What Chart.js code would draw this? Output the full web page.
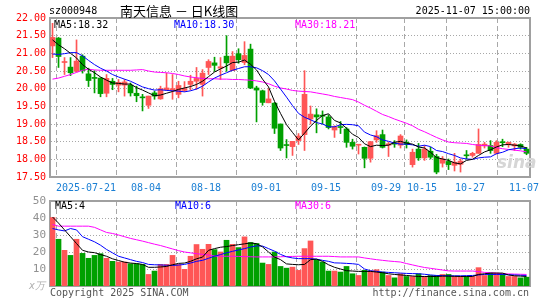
<!DOCTYPE html>
<html>
<head>
<meta charset="utf-8">
<script src="https://cdn.jsdelivr.net/npm/chart.js@4.4.0/dist/chart.umd.min.js"></script>
<style>
  body { margin: 0; background: #fff; width: 545px; height: 300px; overflow: hidden; position: relative; font-family: "DejaVu Sans Mono", monospace; }
  canvas { position: absolute; left: 0; top: 0; }
  .t { position: absolute; font-size: 10px; line-height: 12px; white-space: nowrap; }
</style>
</head>
<body>
<canvas id="kline" width="545" height="300"></canvas>
<canvas id="vol" width="545" height="300"></canvas>

<div class="t" style="left:49px;top:5px;color:#000">sz000948</div>
<div class="t" style="left:120px;top:3px;font-family:'Noto Sans CJK SC';font-size:13px;line-height:16px;color:#000">南天信息 － 日K线图</div>
<div class="t" style="right:15px;top:5px;color:#000">2025-11-07 15:00:00</div>

<div class="t" style="left:54px;top:19px;color:#000">MA5:18.32</div>
<div class="t" style="left:174px;top:19px;color:#0000ff">MA10:18.30</div>
<div class="t" style="left:295px;top:19px;color:#ff00ff">MA30:18.21</div>

<div class="t" style="left:55px;top:200px;color:#000">MA5:4</div>
<div class="t" style="left:175px;top:200px;color:#0000ff">MA10:6</div>
<div class="t" style="left:295px;top:200px;color:#ff00ff">MA30:6</div>

<div class="t" style="left:29px;top:280px;color:#b0b0b0;font-style:italic">x万</div>
<div class="t" style="left:50px;top:287px;color:#555">Copyright 2025 SINA.COM</div>
<div class="t" style="right:16px;top:287px;color:#555">http://finance.sina.com.cn</div>
<div class="t" style="left:497px;top:152px;font-size:17px;line-height:20px;font-weight:bold;font-style:italic;font-family:'DejaVu Sans';color:#d6d6d6">sina</div>

<script>
// 交易日 (80 根K线)
const dates = [
  "07-11","07-14","07-15","07-16","07-17","07-18",
  "07-21","07-22","07-23","07-24","07-25","07-28","07-29","07-30","07-31","08-01",
  "08-04","08-05","08-06","08-07","08-08","08-11","08-12","08-13","08-14","08-15",
  "08-18","08-19","08-20","08-21","08-22","08-25","08-26","08-27","08-28","08-29",
  "09-01","09-02","09-03","09-04","09-05","09-08","09-09","09-10","09-11","09-12",
  "09-15","09-16","09-17","09-18","09-19","09-22","09-23","09-24","09-25","09-26",
  "09-29","09-30","10-09","10-10","10-13","10-14","10-15","10-16","10-17",
  "10-20","10-21","10-22","10-23","10-24","10-27","10-28","10-29","10-30","10-31",
  "11-03","11-04","11-05","11-06","11-07"
];
const tickDates = ["07-21","08-04","08-18","09-01","09-15","09-29","10-15","10-27","11-07"];
const tickLabels = ["2025-07-21","08-04","08-18","09-01","09-15","09-29","10-15","10-27","11-07"];
const priceTicks = [17.5, 18, 18.5, 19, 19.5, 20, 20.5, 21, 21.5, 22];
const volTicks = [10, 20, 30, 40, 50];

const open = [21.21,21.43,20.74,20.61,20.49,20.92,20.42,20.31,20.30,19.87,
  20.21,20.10,20.10,20.10,19.87,19.76,19.53,19.88,19.71,19.97,
  19.96,19.84,19.95,20.12,20.21,20.12,20.60,20.73,20.58,20.92,
  20.51,20.99,20.74,21.12,20.02,19.94,19.60,19.59,19.00,18.40,
  18.36,18.53,18.70,19.14,19.26,19.25,19.20,18.83,18.91,18.86,
  18.48,18.40,18.34,18.03,18.55,18.70,18.40,18.45,18.40,18.48,
  17.85,18.29,18.04,18.23,18.08,17.89,17.94,17.83,17.86,18.11,
  18.11,18.17,18.38,18.39,18.17,18.49,18.42,18.38,18.42,18.29];
const high = [21.85,21.45,20.88,20.88,21.38,20.96,20.58,20.51,20.31,20.40,
  20.29,20.26,20.26,20.16,20.07,19.84,19.79,19.93,20.07,20.44,
  20.40,20.21,20.20,20.38,20.60,20.54,20.82,20.89,20.88,21.50,
  21.05,21.13,21.33,21.26,20.07,19.96,20.00,19.61,19.00,18.56,
  18.51,18.73,20.51,19.51,19.43,19.37,19.26,18.95,19.07,18.90,
  18.57,18.42,18.35,18.51,18.81,18.83,18.48,18.53,18.70,18.55,
  18.29,18.45,18.39,18.34,18.14,18.08,18.01,18.17,18.01,18.25,
  18.20,18.86,18.48,18.53,18.53,18.57,18.49,18.45,18.44,18.34];
const low = [20.88,20.60,20.40,20.37,20.47,20.44,20.06,19.88,19.77,19.77,
  19.97,19.91,19.79,19.79,19.63,19.37,19.44,19.70,19.70,19.95,
  19.70,19.74,19.92,19.96,19.98,19.79,20.40,20.49,20.26,20.49,
  20.51,20.72,20.68,20.00,19.06,19.53,19.60,18.73,18.25,18.04,
  18.11,18.42,18.25,19.00,18.75,19.00,18.86,18.62,18.73,18.34,
  18.29,18.15,17.76,17.92,18.48,18.32,18.08,18.34,18.32,18.32,
  17.78,17.97,17.97,18.01,17.59,17.78,17.71,17.67,17.64,18.01,
  18.06,18.17,18.32,18.17,18.15,18.36,18.34,18.25,18.29,18.13];
const close = [21.45,20.91,20.76,20.45,20.78,20.51,20.23,20.29,19.86,20.29,
  20.12,20.18,20.19,19.88,19.80,19.74,19.79,19.79,20.00,20.02,
  20.00,20.09,20.00,20.21,20.29,20.44,20.77,20.66,20.62,20.73,
  20.92,20.82,20.94,20.02,19.96,19.61,19.71,18.88,18.32,18.39,
  18.51,18.66,19.84,19.28,19.20,19.22,18.90,18.92,18.90,18.48,
  18.37,18.41,18.03,18.50,18.67,18.34,18.44,18.43,18.66,18.42,
  18.20,18.04,18.29,18.06,17.64,18.01,17.85,17.92,17.95,18.10,
  18.17,18.42,18.43,18.25,18.48,18.47,18.48,18.43,18.34,18.17];

const ma5 = [21.38,21.24,21.13,21.00,20.87,20.68,20.55,20.45,20.33,20.24,
  20.16,20.15,20.13,20.13,20.03,19.96,19.88,19.80,19.82,19.87,
  19.92,19.98,20.02,20.06,20.12,20.21,20.34,20.47,20.56,20.64,
  20.74,20.75,20.81,20.69,20.53,20.27,20.05,19.64,19.30,18.98,
  18.76,18.55,18.74,18.94,19.10,19.24,19.29,19.10,19.03,18.88,
  18.71,18.62,18.44,18.36,18.40,18.39,18.40,18.48,18.51,18.46,
  18.43,18.35,18.32,18.20,18.05,18.01,17.97,17.90,17.87,17.97,
  18.00,18.11,18.21,18.27,18.35,18.41,18.42,18.40,18.38,18.32];
const ma10 = [20.98,20.97,20.99,21.02,21.02,20.93,20.80,20.68,20.58,20.50,
  20.40,20.33,20.27,20.21,20.13,20.05,20.00,19.96,19.97,19.95,
  19.94,19.93,19.91,19.94,19.99,20.07,20.19,20.30,20.38,20.45,
  20.52,20.57,20.62,20.62,20.59,20.51,20.40,20.22,19.99,19.76,
  19.52,19.30,19.19,19.12,19.04,19.00,18.92,18.92,18.98,18.99,
  18.98,18.95,18.77,18.69,18.64,18.55,18.51,18.46,18.43,18.43,
  18.41,18.37,18.40,18.36,18.25,18.22,18.16,18.11,18.04,18.01,
  18.00,18.04,18.06,18.07,18.16,18.20,18.27,18.30,18.32,18.30];
const ma30 = [20.27,20.30,20.35,20.40,20.46,20.52,20.55,20.53,20.52,20.52,
  20.52,20.52,20.52,20.52,20.53,20.54,20.50,20.47,20.46,20.45,
  20.43,20.40,20.36,20.33,20.31,20.29,20.28,20.28,20.27,20.27,
  20.26,20.26,20.25,20.24,20.22,20.19,20.14,20.07,20.02,19.99,
  19.95,19.93,19.92,19.91,19.88,19.85,19.82,19.78,19.75,19.72,
  19.69,19.62,19.53,19.45,19.36,19.27,19.21,19.14,19.08,19.02,
  18.95,18.85,18.78,18.70,18.62,18.55,18.49,18.47,18.46,18.45,
  18.42,18.40,18.39,18.38,18.33,18.30,18.28,18.26,18.24,18.21];

// 成交量 (万手)
const volume = [40.3,27.5,21.0,18.0,27.5,19.2,16.3,18.0,19.0,16.3,
  14.5,14.1,14.1,13.1,13.1,12.7,6.8,8.8,12.7,12.7,
  18.0,12.7,9.8,17.5,24.4,21.6,24.5,21.4,20.0,26.9,
  24.5,22.6,28.9,25.6,25.0,13.5,12.7,20.0,11.5,10.5,
  11.1,9.2,22.0,26.5,15.5,14.1,8.8,8.8,8.2,11.5,
  7.2,6.2,9.2,8.8,9.6,8.2,6.2,4.8,7.2,5.6,
  5.6,7.2,5.6,6.2,6.2,6.8,6.8,5.6,5.6,5.6,
  5.6,10.8,6.2,7.6,7.6,7.2,5.6,5.6,4.8,5.2];
const vma5 = [40.6,37.0,33.0,29.0,25.0,21.0,20.0,19.6,18.5,17.5,
  16.0,15.0,14.0,13.5,13.2,12.7,11.0,11.0,11.2,11.5,
  12.5,13.3,13.5,14.5,16.0,17.0,21.0,22.0,22.8,23.2,
  23.8,24.3,24.8,25.3,24.9,23.0,20.0,17.0,15.5,13.0,
  12.7,12.5,12.7,15.5,15.8,14.5,12.5,11.0,10.0,9.0,
  8.8,8.6,8.6,8.6,8.2,7.8,7.2,6.8,6.5,6.2,
  5.9,5.6,5.6,5.6,5.6,5.8,5.8,5.7,5.6,5.6,
  5.6,6.8,7.2,7.6,7.6,7.6,6.5,6.0,5.8,5.6];
const vma10 = [33.8,33.0,32.4,33.8,33.0,29.0,27.5,26.0,24.0,21.5,
  19.5,17.5,16.5,15.5,14.5,13.8,12.7,12.5,12.4,12.2,
  12.1,12.3,12.7,13.5,14.5,15.1,16.3,17.5,18.5,19.5,
  20.4,21.2,22.0,22.9,23.6,23.5,22.0,20.5,18.6,17.2,
  16.5,16.1,16.1,16.1,15.8,15.1,14.5,13.6,13.5,13.3,
  13.1,12.7,10.0,9.0,8.6,8.2,8.0,7.8,7.6,7.4,
  7.3,7.2,6.9,6.5,6.2,6.1,6.0,6.0,6.0,6.1,
  6.2,6.5,6.8,6.8,6.8,6.8,6.6,6.5,6.3,6.2];
const vma30 = [36.2,35.2,35.2,35.2,35.2,35.2,35.2,34.5,33.0,31.5,
  30.9,30.0,29.0,28.0,27.2,26.4,25.5,24.6,23.8,22.8,
  21.8,20.8,20.0,19.5,19.0,18.6,18.2,17.6,17.5,17.5,
  17.5,17.4,17.3,17.2,17.1,17.1,17.1,17.1,17.2,17.3,
  17.4,17.5,17.5,17.5,17.5,17.5,17.5,17.3,17.1,17.1,
  17.1,17.1,16.5,16.0,15.5,15.1,14.7,14.4,14.1,13.2,
  12.4,11.6,10.9,10.4,9.9,9.4,8.9,8.8,8.8,8.8,
  8.8,8.5,8.0,7.8,7.5,7.2,7.1,7.0,6.9,6.8];

const RED = "#ff5656";
const GREEN = "#00a000";
const GRID = "#a8a8a8";
const FRAME = "#a0a0a0";
const tickIdx = tickDates.map(d => dates.indexOf(d));
const xs = dates.map((d, i) => i + 0.42); // K线中心
const colores = close.map((c, i) => c >= open[i] ? RED : GREEN);

Chart.defaults.font.family = "'DejaVu Sans Mono', monospace";
Chart.defaults.font.size = 10;

function linea(data, color) {
  return {
    type: "line",
    data: data.map((v, i) => ({ x: xs[i], y: v })),
    borderColor: color,
    borderWidth: 1,
    pointRadius: 0,
    tension: 0,
    fill: false,
    order: 0
  };
}

// 边框用的空轴 (上、右)
const marco = {
  x2: {
    type: "linear", position: "top",
    grid: { display: false, drawTicks: false, tickLength: 0 },
    ticks: { display: false },
    border: { display: true, color: FRAME, width: 2 }
  },
  y2: {
    type: "linear", position: "right",
    grid: { display: false, drawTicks: false, tickLength: 0 },
    ticks: { display: false },
    border: { display: true, color: FRAME, width: 2 }
  }
};

new Chart(document.getElementById("kline"), {
  type: "bar",
  data: {
    datasets: [
      {
        data: low.map((l, i) => ({ x: xs[i], y: [l, high[i]] })),
        backgroundColor: colores,
        barThickness: 1,
        grouped: false,
        order: 2
      },
      {
        data: open.map((o, i) => ({ x: xs[i], y: [o, close[i]] })),
        backgroundColor: colores,
        barThickness: 5,
        minBarLength: 1,
        grouped: false,
        order: 1
      },
      linea(ma5, "#000000"),
      linea(ma10, "#0000ff"),
      linea(ma30, "#ff00ff")
    ]
  },
  options: {
    responsive: false,
    animation: false,
    layout: { padding: { left: 0, right: 15, top: 18, bottom: 103 } },
    plugins: { legend: { display: false }, tooltip: { enabled: false } },
    scales: {
      x: {
        type: "linear",
        offset: false,
        min: 0,
        max: dates.length,
        grid: { display: true, color: GRID, lineWidth: 1, drawTicks: false },
        border: { display: true, color: FRAME, width: 2, dash: [5, 3] },
        afterBuildTicks: s => { s.ticks = tickIdx.map(v => ({ value: v })); },
        afterFit: s => { s.height = 20; },
        ticks: {
          autoSkip: false,
          maxRotation: 0,
          minRotation: 0,
          padding: 5,
          color: "#1a7fd4",
          callback: (v, i) => tickLabels[i]
        }
      },
      y: {
        min: 17.5,
        max: 22,
        grid: { display: true, color: GRID, lineWidth: 1, drawTicks: false },
        border: { display: true, color: FRAME, width: 2, dash: [1, 2] },
        afterBuildTicks: s => { s.ticks = priceTicks.map(v => ({ value: v })); },
        afterFit: s => { s.width = 50; },
        ticks: {
          padding: 4,
          color: "#ff0000",
          callback: v => v.toFixed(2)
        }
      },
      ...marco
    }
  }
});

new Chart(document.getElementById("vol"), {
  type: "bar",
  data: {
    datasets: [
      {
        data: volume.map((v, i) => ({ x: xs[i], y: v })),
        backgroundColor: colores,
        barThickness: 5,
        grouped: false,
        order: 1
      },
      linea(vma5, "#000000"),
      linea(vma10, "#0000ff"),
      linea(vma30, "#ff00ff")
    ]
  },
  options: {
    responsive: false,
    animation: false,
    layout: { padding: { left: 0, right: 15, top: 201, bottom: 14 } },
    plugins: { legend: { display: false }, tooltip: { enabled: false } },
    scales: {
      x: {
        type: "linear",
        offset: false,
        min: 0,
        max: dates.length,
        grid: { display: true, color: GRID, lineWidth: 1, drawTicks: false },
        border: { display: true, color: FRAME, width: 2, dash: [5, 3] },
        afterBuildTicks: s => { s.ticks = tickIdx.map(v => ({ value: v })); },
        afterFit: s => { s.height = 0; },
        ticks: { display: false }
      },
      y: {
        min: 0,
        max: 50,
        grid: {
          display: true, lineWidth: 1, drawTicks: false,
          color: c => c.tick && c.tick.value === 50 ? "rgba(0,0,0,0)" : GRID
        },
        border: { display: true, color: FRAME, width: 2, dash: [1, 2] },
        afterBuildTicks: s => { s.ticks = volTicks.map(v => ({ value: v })); },
        afterFit: s => { s.width = 50; },
        ticks: { padding: 4, color: "#909090", font: { size: 11 } }
      },
      ...marco
    }
  }
});
</script>
</body>
</html>
